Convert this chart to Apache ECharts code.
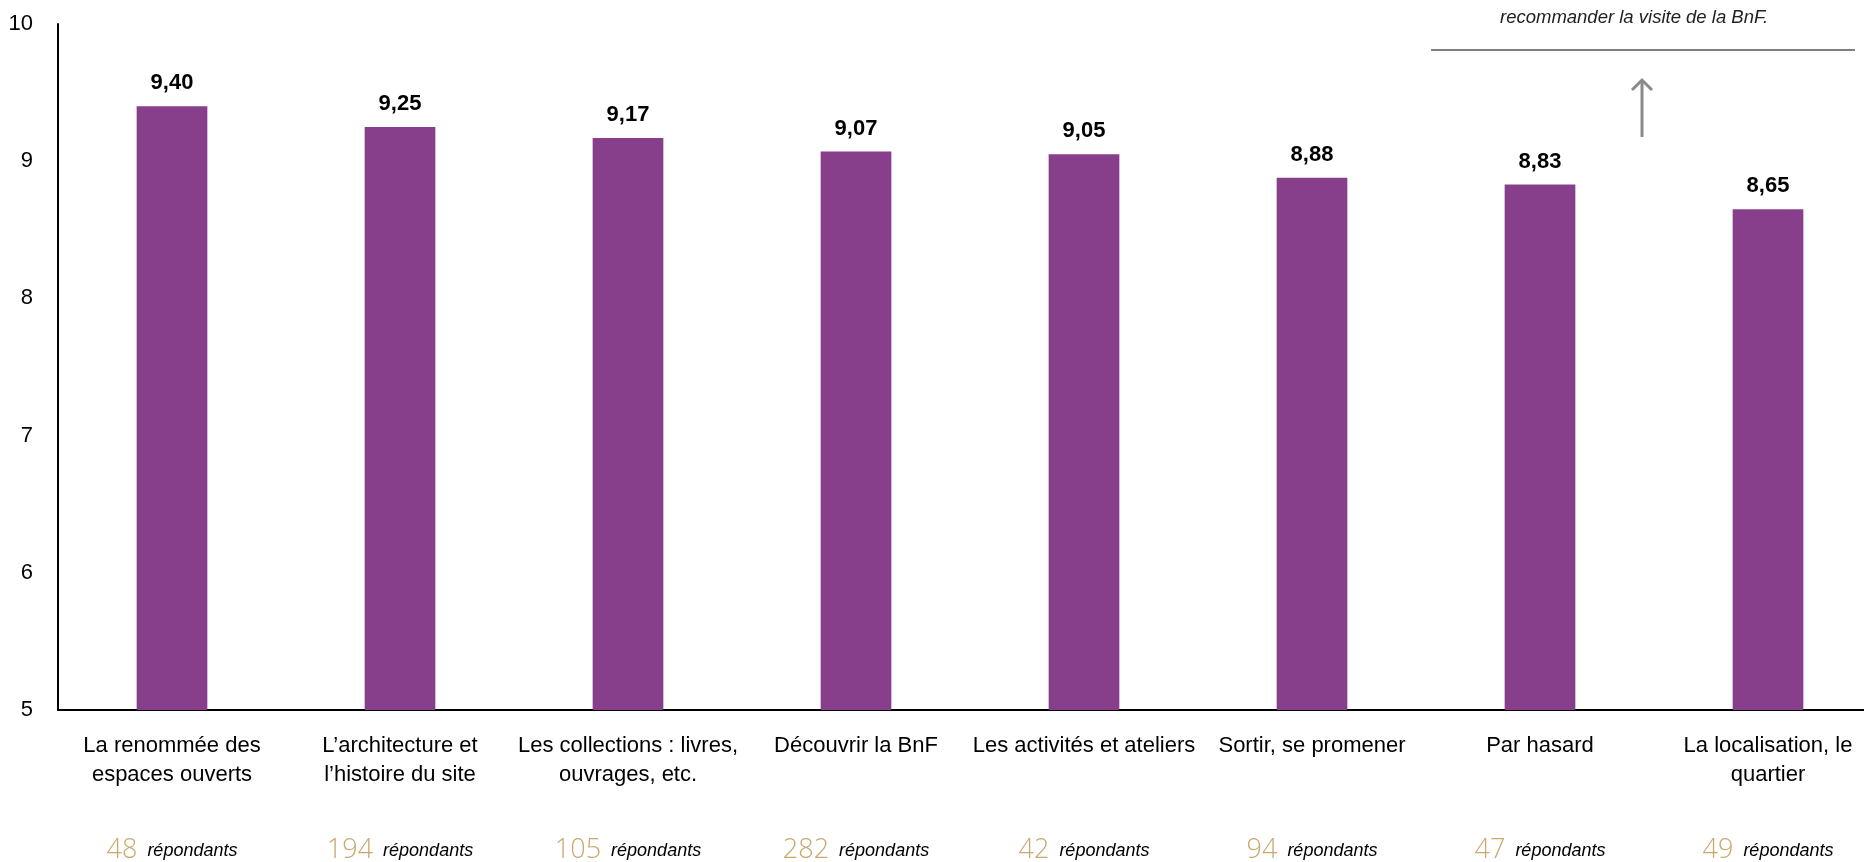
<!DOCTYPE html>
<html><head><meta charset="utf-8">
<script src="https://cdn.jsdelivr.net/npm/echarts@6/dist/echarts.min.js"></script>
<style>html,body{margin:0;padding:0;background:#fff}#c{width:1864px;height:862px}</style>
</head><body><div id="c"></div>
<script>
const categories = [
  "La renommée des\nespaces ouverts",
  "L\u2019architecture et\nl\u2019histoire du site",
  "Les collections : livres,\nouvrages, etc.",
  "Découvrir la BnF\n ",
  "Les activités et ateliers\n ",
  "Sortir, se promener\n ",
  "Par hasard\n ",
  "La localisation, le\nquartier"
];
const scores = [9.40, 9.25, 9.17, 9.07, 9.05, 8.88, 8.83, 8.65];
const respondents = [48, 194, 105, 282, 42, 94, 47, 49];
const yTicks = [5, 6, 7, 8, 9, 10];
const note = "recommander la visite de la BnF.";

const FONT = "'Liberation Sans Narrow', 'Liberation Sans', Arial, sans-serif";
const chart = echarts.init(document.getElementById('c'));
chart.setOption({
  animation: false,
  backgroundColor: '#fff',
  grid: { left: 58, top: 24, right: -18, bottom: 152, containLabel: false, outerBoundsMode: 'none' },
  xAxis: [{
    type: 'category',
    data: categories,
    axisLine: { lineStyle: { color: '#000', width: 2 } },
    axisTick: { show: false },
    axisLabel: { interval: 0, margin: 21, color: '#000', fontFamily: FONT, fontSize: 22, lineHeight: 29 }
  }, {
    type: 'category',
    data: respondents,
    position: 'bottom',
    offset: 127,
    axisLine: { show: false },
    axisTick: { show: false },
    axisLabel: {
      interval: 0, margin: 0,
      formatter: v => '{n|' + v + '}{r|répondants}',
      rich: {
        n: { color: '#c9a96e', fontFamily: "'Open Sans', sans-serif", fontWeight: 300, fontSize: 27, padding: [0, 10, 0, 0] },
        r: { color: '#000', fontFamily: FONT, fontStyle: 'italic', fontSize: 18 }
      }
    }
  }],
  yAxis: {
    type: 'value', min: yTicks[0], max: yTicks[yTicks.length - 1], interval: 1,
    axisLine: { show: true, lineStyle: { color: '#000', width: 2 } },
    axisTick: { show: false },
    splitLine: { show: false },
    axisLabel: { margin: 25, color: '#000', fontFamily: FONT, fontSize: 22 }
  },
  series: [{
    type: 'bar',
    data: scores,
    xAxisIndex: 0,
    barWidth: '31%',
    itemStyle: { color: '#873f8b' },
    label: {
      show: true, position: 'top', distance: 12,
      color: '#000', fontFamily: FONT, fontWeight: 'bold', fontSize: 22,
      formatter: p => p.value.toFixed(2).replace('.', ',')
    }
  }],
  graphic: [
    { type: 'text', style: { x: 1634, y: 18, text: note, fontFamily: FONT, fontStyle: 'italic', fontSize: 18.5, fill: '#222', textAlign: 'center', textVerticalAlign: 'middle' } },
    { type: 'line', shape: { x1: 1431, y1: 50, x2: 1855, y2: 50 }, style: { stroke: '#808080', lineWidth: 2 } },
    { type: 'line', shape: { x1: 1642, y1: 137, x2: 1642, y2: 80 }, style: { stroke: '#8a8a8a', lineWidth: 3 } },
    { type: 'polyline', shape: { points: [[1632, 90], [1642, 80], [1652, 90]] }, style: { stroke: '#8a8a8a', lineWidth: 3, fill: null } }
  ]
});
</script></body></html>
